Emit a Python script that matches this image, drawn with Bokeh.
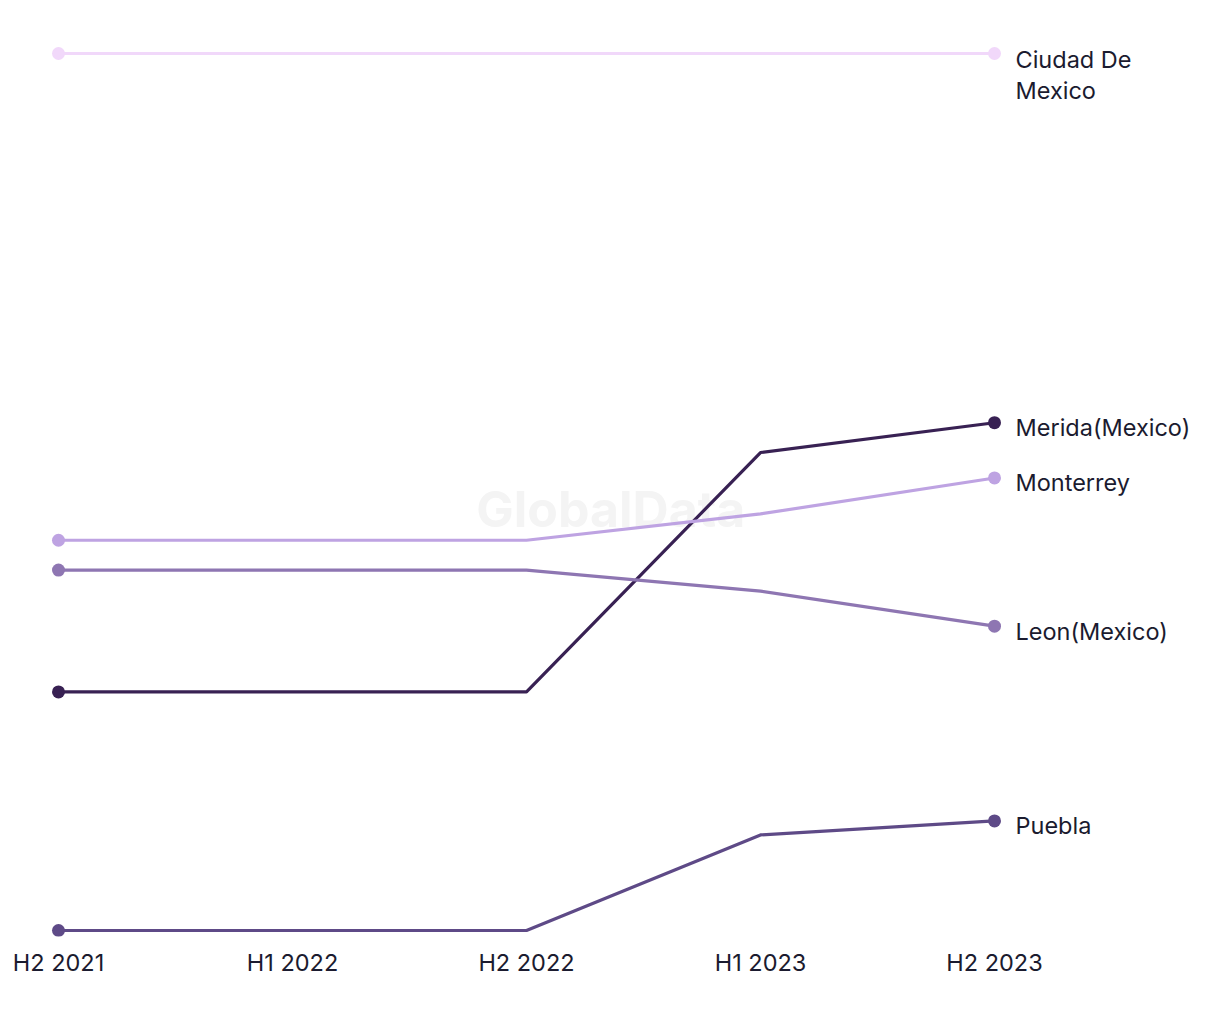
from bokeh.plotting import figure
from bokeh.models import Range1d, FixedTicker, Label, ColumnDataSource
from bokeh.core.properties import value
from bokeh.embed import file_html
from bokeh.resources import INLINE

periods = ["H2 2021", "H1 2022", "H2 2022", "H1 2023", "H2 2023"]
cities = ["Ciudad De Mexico", "Merida(Mexico)", "Monterrey", "Leon(Mexico)", "Puebla"]
label_texts = ["Ciudad De\nMexico", "Merida(Mexico)", "Monterrey", "Leon(Mexico)", "Puebla"]
ciudad = [100.0, 100.0, 100.0, 100.0, 100.0]
merida = [27.2, 27.2, 27.2, 54.5, 57.9]
monterrey = [44.5, 44.5, 44.5, 47.5, 51.6]
leon = [41.1, 41.1, 41.1, 38.7, 34.7]
puebla = [0.0, 0.0, 0.0, 10.9, 12.5]
colors = ["#f1d8fa", "#382153", "#bea3e2", "#8e76b2", "#5e4a87"]

series = [ciudad, merida, monterrey, leon, puebla]
FONT = "Inter"
TEXT_COLOR = "#1b1b2f"

xs = list(range(len(periods)))
W, H = 1200, 1001
p = figure(width=W, height=H, output_backend="svg", toolbar_location=None,
           x_range=Range1d(-58 / 234, 4 + (W - 58 - 936) / 234),
           y_range=Range1d(-6 / 8.77, 100 + 53 / 8.77),
           min_border_left=0, min_border_right=0, min_border_top=0,
           min_border_bottom=65)
p.outline_line_color = None
p.grid.visible = False
p.yaxis.visible = False
p.background_fill_color = "white"
p.border_fill_color = "white"

ax = p.xaxis[0]
ax.ticker = FixedTicker(ticks=xs)
ax.major_label_overrides = {i: t for i, t in enumerate(periods)}
ax.axis_line_color = None
ax.major_tick_line_color = None
ax.minor_tick_line_color = None
ax.major_label_text_font = FONT
ax.major_label_text_font_size = "23.5px"
ax.major_label_text_color = TEXT_COLOR
ax.major_label_standoff = 5

wm = Label(x=2.36, y=48.1, text="GlobalData", text_align="center", text_baseline="middle",
           text_font=FONT, text_font_style="bold", text_font_size="50px",
           text_color="#f4f4f4", level="underlay")
p.add_layout(wm)

for vals, col in zip(series, colors):
    p.line(xs, vals, line_color=col, line_width=3.2)
    p.scatter([xs[0], xs[-1]], [vals[0], vals[-1]], size=13, fill_color=col, line_color=None)

single = ColumnDataSource(dict(x=[xs[-1]] * 4, y=[s[-1] for s in series[1:]], t=label_texts[1:]))
p.text(x="x", y="y", text="t", source=single, x_offset=21, y_offset=5,
       text_font=value(FONT), text_font_size="23.5px", text_color=TEXT_COLOR,
       text_baseline="middle", text_align="left")
multi = ColumnDataSource(dict(x=[xs[-1]], y=[series[0][-1]], t=[label_texts[0]]))
p.text(x="x", y="y", text="t", source=multi, x_offset=21, y_offset=-9,
       text_font=value(FONT), text_font_size="23.5px", text_color=TEXT_COLOR,
       text_baseline="top", text_align="left", text_line_height=1.1)

open("out.html", "w").write(file_html(p, INLINE))
